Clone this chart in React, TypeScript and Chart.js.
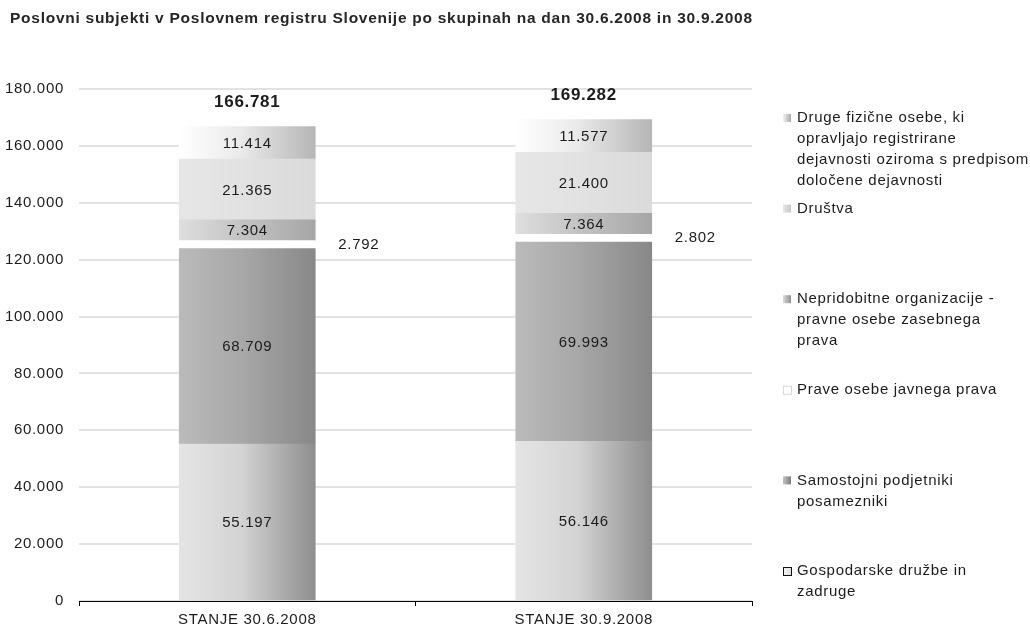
import React, { useEffect, useRef } from "react";
import { Chart, registerables } from "chart.js";

Chart.register(...registerables);

// ---- data ----
const categories = ["STANJE 30.6.2008", "STANJE 30.9.2008"];

const gospodarskeDruzbe = [55197, 56146];
const samostojniPodjetniki = [68709, 69993];
const praveOsebeJavnega = [2792, 2802];
const nepridobitneOrganizacije = [7304, 7364];
const drustva = [21365, 21400];
const drugeFizicneOsebe = [11414, 11577];

const seriesNames = [
  "Gospodarske družbe in zadruge",
  "Samostojni podjetniki posamezniki",
  "Prave osebe javnega prava",
  "Nepridobitne organizacije - pravne osebe zasebnega prava",
  "Društva",
  "Druge fizične osebe, ki opravljajo registrirane dejavnosti oziroma s predpisom določene dejavnosti",
];

// legend text, wrapped as it is printed (top entry first)
const legendLines = [
  ["Druge fizične osebe, ki", "opravljajo registrirane", "dejavnosti oziroma s predpisom", "določene dejavnosti"],
  ["Društva"],
  ["Nepridobitne organizacije -", "pravne osebe zasebnega", "prava"],
  ["Prave osebe javnega prava"],
  ["Samostojni podjetniki", "posamezniki"],
  ["Gospodarske družbe in", "zadruge"],
];

const yTickValues = [0, 20000, 40000, 60000, 80000, 100000, 120000, 140000, 160000, 180000];

const titleText =
  "Poslovni subjekti v Poslovnem registru Slovenije po skupinah na dan 30.6.2008 in 30.9.2008";

// ---- styles ----
const FONT = '"Liberation Sans", Arial, sans-serif';
const TEXT = "#1c1c1c";
const SPACING = "0.7px";
const BAR_W = 136;
const TITLE_RIGHT = 752;

// left-to-right shading of each series (same order as seriesNames)
const shades: string[][] = [
  ["#e4e4e4", "#d4d4d4", "#8e8e8e"],
  ["#bababa", "#a8a8a8", "#888888"],
  ["#ffffff", "#ffffff", "#ffffff"],
  ["#dedede", "#c4c4c4", "#a6a6a6"],
  ["#e6e6e6", "#e2e2e2", "#dadada"],
  ["#ffffff", "#eaeaea", "#b6b6b6"],
];

const legendMarkers = [
  { fill: ["#f2f2f2", "#a8a8a8"], stroke: null },
  { fill: ["#e6e6e6", "#c8c8c8"], stroke: null },
  { fill: ["#dadada", "#909090"], stroke: null },
  { fill: ["#ffffff", "#ffffff"], stroke: "#d8d8d8" },
  { fill: ["#c4c4c4", "#7c7c7c"], stroke: null },
  { fill: ["#f4f4f4", "#e0e0e0"], stroke: "#111111" },
];

const fmt = (n: number) => String(n).replace(/\B(?=(\d{3})+(?!\d))/g, ".");

const barFill = (stops: string[]) => (ctx: any) => {
  const chart = ctx.chart;
  const xs = chart.scales?.x;
  if (!chart.chartArea || !xs || ctx.dataIndex === undefined) return stops[1];
  const cx = xs.getPixelForValue(ctx.dataIndex);
  const g = chart.ctx.createLinearGradient(cx - BAR_W / 2, 0, cx + BAR_W / 2, 0);
  g.addColorStop(0, stops[0]);
  g.addColorStop(0.45, stops[1]);
  g.addColorStop(1, stops[2]);
  return g;
};

// slightly wider letter advance for all canvas text
const spacingPlugin = {
  id: "textSpacing",
  beforeDraw(chart: any) {
    (chart.ctx as any).letterSpacing = SPACING;
  },
};

// value labels inside segments, small segment labelled beside the bar, totals on top
const labelsPlugin = {
  id: "segmentLabels",
  afterDatasetsDraw(chart: any) {
    const ctx = chart.ctx;
    ctx.save();
    ctx.letterSpacing = SPACING;
    ctx.fillStyle = TEXT;
    ctx.textBaseline = "middle";
    const n = chart.data.datasets.length;
    chart.data.datasets.forEach((ds: any, di: number) => {
      const meta = chart.getDatasetMeta(di);
      meta.data.forEach((bar: any, i: number) => {
        const v = ds.data[i];
        const cy = (bar.y + bar.base) / 2;
        ctx.font = `15px ${FONT}`;
        if (di === 2) {
          ctx.textAlign = "left";
          ctx.fillText(fmt(v), bar.x + BAR_W / 2 + 23, cy);
        } else {
          ctx.textAlign = "center";
          ctx.fillText(fmt(v), bar.x, cy + 1);
        }
        if (di === n - 1) {
          const total = chart.data.datasets.reduce((s: number, d: any) => s + d.data[i], 0);
          ctx.font = `bold 17px ${FONT}`;
          ctx.textAlign = "center";
          ctx.fillText(fmt(total), bar.x, bar.y - 24);
        }
      });
    });
    ctx.restore();
  },
};

const titleLegendPlugin = {
  id: "titleLegend",
  afterDraw(chart: any) {
    const ctx = chart.ctx;
    ctx.save();
    ctx.fillStyle = "#262626";
    ctx.textBaseline = "middle";
    ctx.textAlign = "left";
    ctx.font = `bold 15.5px ${FONT}`;
    ctx.letterSpacing = "0px";
    const w = ctx.measureText(titleText).width;
    const ls = Math.max(0, (TITLE_RIGHT - 10 - w) / (titleText.length - 1));
    ctx.letterSpacing = `${ls}px`;
    ctx.fillText(titleText, 10, 19);

    ctx.letterSpacing = SPACING;
    ctx.font = `15px ${FONT}`;
    legendLines.forEach((lines, i) => {
      const y0 = 118 + i * 90.6;
      const m = legendMarkers[i];
      const g = ctx.createLinearGradient(783, 0, 791, 0);
      g.addColorStop(0, m.fill[0]);
      g.addColorStop(1, m.fill[1]);
      ctx.fillStyle = g;
      ctx.fillRect(783, y0 - 4, 8, 8);
      if (m.stroke) {
        ctx.strokeStyle = m.stroke;
        ctx.lineWidth = 1;
        ctx.strokeRect(783.5, y0 - 3.5, 8, 8);
      }
      ctx.fillStyle = TEXT;
      lines.forEach((t, k) => ctx.fillText(t, 797, y0 + k * 21));
    });
    ctx.restore();
  },
};

export default function App() {
  const ref = useRef<HTMLCanvasElement>(null);

  useEffect(() => {
    if (!ref.current) return;
    Chart.defaults.font.family = FONT;
    const series = [
      gospodarskeDruzbe,
      samostojniPodjetniki,
      praveOsebeJavnega,
      nepridobitneOrganizacije,
      drustva,
      drugeFizicneOsebe,
    ];
    const chart = new Chart(ref.current, {
      type: "bar",
      data: {
        labels: categories,
        datasets: series.map((values, i) => ({
          label: seriesNames[i],
          data: values,
          backgroundColor: barFill(shades[i]),
          borderWidth: 0,
          barThickness: BAR_W,
        })),
      },
      options: {
        animation: false,
        responsive: false,
        devicePixelRatio: 1,
        layout: { padding: { left: 0, right: 278, top: 89, bottom: 0 } },
        plugins: {
          legend: { display: false },
          title: { display: false },
          tooltip: { enabled: false },
        },
        scales: {
          x: {
            stacked: true,
            grid: {
              display: true,
              drawOnChartArea: false,
              drawTicks: true,
              tickLength: 5,
              color: "#000000",
              offset: true,
            },
            border: { display: true, color: "#000000", width: 1 },
            ticks: { color: TEXT, font: { size: 15, family: FONT }, padding: 5 },
            afterFit: (s: any) => {
              s.height = 32;
            },
          },
          y: {
            stacked: true,
            min: 0,
            max: 180000,
            afterBuildTicks: (s: any) => {
              s.ticks = yTickValues.map((v) => ({ value: v }));
            },
            grid: { color: "#e2e2e2", lineWidth: 2, drawTicks: false },
            border: { display: false },
            ticks: {
              color: TEXT,
              font: { size: 15, family: FONT },
              padding: 15,
              callback: (v: any) => fmt(Number(v)),
            },
            afterFit: (s: any) => {
              s.width = 79;
            },
          },
        },
      },
      plugins: [spacingPlugin, labelsPlugin, titleLegendPlugin],
    });
    return () => chart.destroy();
  }, []);

  return (
    <div style={{ position: "fixed", left: 0, top: 0, width: 1030, height: 633, background: "#fff" }}>
      <canvas ref={ref} width={1030} height={633} style={{ width: 1030, height: 633 }} />
    </div>
  );
}
